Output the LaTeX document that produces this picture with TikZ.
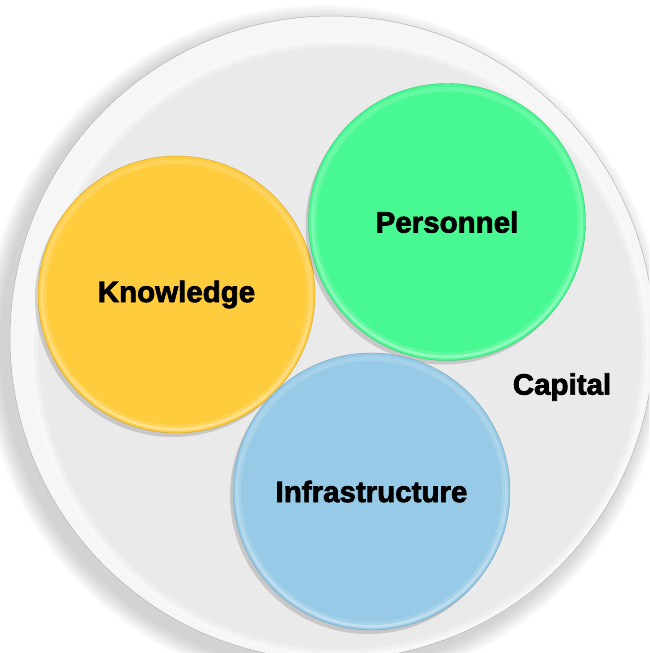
\documentclass[tikz,border=0pt]{standalone}
\usepackage{fontspec}
\setmainfont{Liberation Sans}[BoldFeatures={FakeBold=2.4}]
\usetikzlibrary{shadows}
\usetikzlibrary{fadings}
\usetikzlibrary{positioning}

\definecolor{knowyellow}{RGB}{255,204,62}
\definecolor{persgreen}{RGB}{72,248,146}
\definecolor{infrablue}{RGB}{150,202,230}
\definecolor{capgray}{RGB}{234,234,234}
\definecolor{rimwhite}{RGB}{246,246,246}

\begin{document}
\begin{tikzpicture}[x=1pt,y=-1pt,
    lbl/.style={font=\fontsize{29.5}{32}\selectfont\bfseries,text=black},
    disc/.style={circle,minimum size=644pt,inner sep=0pt,fill=rimwhite,draw=gray!60,line width=0.5pt},
    button/.style={circle,minimum size=277pt,inner sep=0pt,fill=#1,draw=#1!80!black,line width=0.4pt,
      drop shadow={shadow xshift=-3pt,shadow yshift=-4pt,opacity=0.15,fill=black},lbl}]
  \useasboundingbox (0,0) rectangle (649,653);
  \clip (0,0) rectangle (649,653);
  % soft shadow of the big disc
  \foreach \i in {1,...,12} { \fill[black,opacity=0.014] (324,346) circle[radius=322+1.6*\i]; }
  \node[disc] (capdisc) at (332,338) {};
  % inner grey face with a soft edge
  \foreach \r/\c in {309/5,307/8,305/11,303/13} { \fill[gray!\c] (340,348) circle[radius=\r]; }
  \fill[capgray] (340,348) circle[radius=301];
  \node[lbl] (capital) at (562,387) {Capital};
  % the three buttons
  \node[button=knowyellow] (knowledge) at (176.5,294.5) {Knowledge};
  \node[button=persgreen] (personnel) at (447,222) {Personnel};
  \node[button=infrablue] (infra) at (371.5,491.5) {Infrastructure};
  \foreach \n in {knowledge,personnel,infra} {
    \draw[white,opacity=0.15,line width=5pt] (\n.center) circle[radius=133];
    \draw[white,opacity=0.35,line width=3pt,path fading=north] (\n.center) circle[radius=135];
  }
\end{tikzpicture}
\end{document}
